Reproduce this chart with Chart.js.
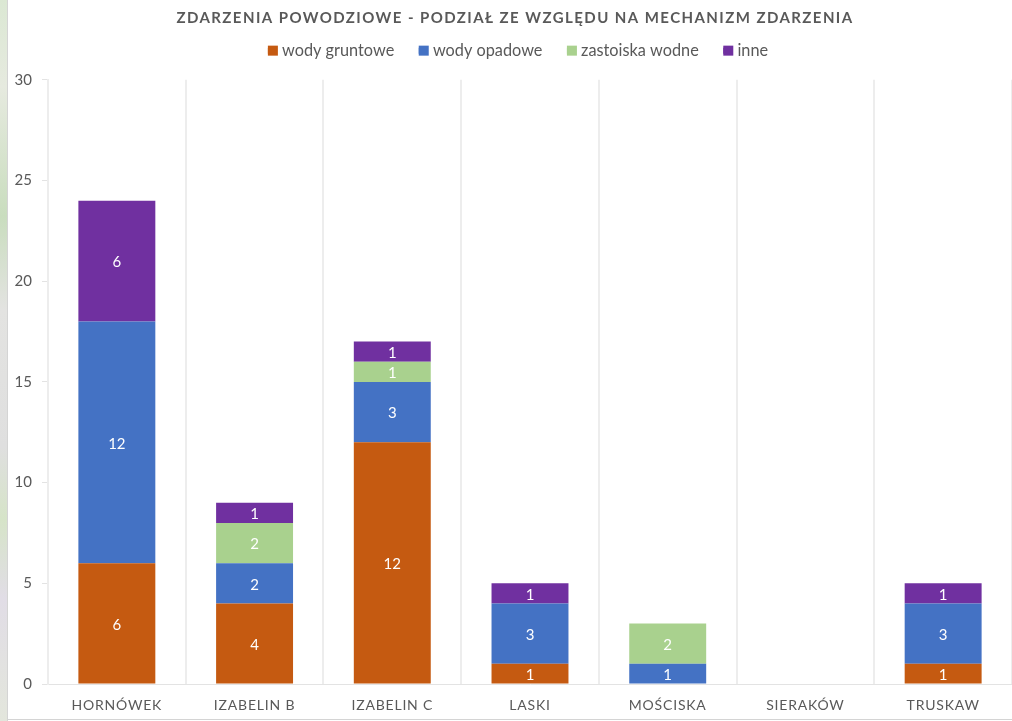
<!DOCTYPE html>
<html><head><meta charset="utf-8">
<script src="https://cdn.jsdelivr.net/npm/chart.js@4"></script>
<style>
html,body{margin:0;padding:0;background:#fff;overflow:hidden}
#wrap{position:relative;width:1012px;height:721px}
#strip{position:absolute;left:0;top:0;width:7px;height:721px;border-right:1px solid #d4d4d4;
background:linear-gradient(180deg,#dbe8d3 0,#e6eadf 12%,#c9ddbe 30%,#e3e3e1 43%,#dfdfdf 62%,#d6e4c8 72%,#e1dde6 83%,#e3e6dc 100%)}
#bottom{position:absolute;left:7px;right:0;top:719px;height:1px;background:#d4d4d4}
canvas{position:absolute;left:0;top:0}
</style></head><body>
<div id="wrap"><div id="strip"></div><div id="bottom"></div><canvas id="c" width="1012" height="721"></canvas></div>
<script>
const categories=["HORNÓWEK","IZABELIN B","IZABELIN C","LASKI","MOŚCISKA","SIERAKÓW","TRUSKAW"];
const wodyGruntowe=[6,4,12,1,0,0,1];
const wodyOpadowe=[12,2,3,3,1,0,3];
const zastoiskaWodne=[0,2,1,0,2,0,0];
const inne=[6,1,1,1,0,0,1];
const yTicks=[0,5,10,15,20,25,30];
const titleText="ZDARZENIA POWODZIOWE - PODZIAŁ ZE WZGLĘDU NA MECHANIZM ZDARZENIA";
const FONT="Lato, Carlito, sans-serif";
const TXT="#595959";

const spacing={
  id:'spacing',
  afterLayout(chart){
    if(chart.$wrapped)return;chart.$wrapped=true;
    const ctx=chart.ctx;
    const t=chart.titleBlock,od=t.draw.bind(t);
    t.draw=function(){ctx.save();ctx.translate(9,7);ctx.letterSpacing='1.43px';od();ctx.restore();};
    const x=chart.scales.x,ol=x.drawLabels.bind(x);
    x.drawLabels=function(a){ctx.save();ctx.letterSpacing='0.8px';ol(a);ctx.restore();};
    const l=chart.legend,oleg=l.draw.bind(l);
    l.draw=function(){
      ctx.save();ctx.translate(12,-11);oleg();
      l.legendItems.forEach((it,i)=>{
        const h=l.legendHitBoxes[i];
        ctx.fillStyle=it.fillStyle;
        ctx.fillRect(h.left,h.top+h.height/2-5,10,10);
      });
      ctx.restore();
    };
  }
};
const barLabels={
  id:'barLabels',
  afterDatasetsDraw(chart){
    const ctx=chart.ctx;ctx.save();
    ctx.font="15px "+FONT;ctx.fillStyle="#fff";ctx.textAlign="center";ctx.textBaseline="middle";
    chart.data.datasets.forEach((ds,i)=>{
      chart.getDatasetMeta(i).data.forEach((el,j)=>{
        const v=ds.data[j];if(!v)return;
        const p=el.getProps(['x','y','base'],true);
        ctx.fillText(String(v),p.x,(p.y+p.base)/2+1.5);
      });
    });
    ctx.restore();
  }
};
const mk=(label,data,color)=>({label,data,backgroundColor:color,borderWidth:0,barPercentage:1,categoryPercentage:0.5587});
new Chart(document.getElementById('c'),{
  type:'bar',
  data:{labels:categories,datasets:[
    mk("wody gruntowe",wodyGruntowe,"#C55A11"),
    mk("wody opadowe",wodyOpadowe,"#4472C4"),
    mk("zastoiska wodne",zastoiskaWodne,"#A9D18E"),
    mk("inne",inne,"#7030A0")
  ]},
  plugins:[spacing,barLabels],
  options:{
    responsive:false,animation:false,
    layout:{padding:0},
    plugins:{
      tooltip:{enabled:false},
      title:{display:true,text:titleText,color:TXT,font:{family:FONT,size:15,weight:'bold'},padding:{top:2,bottom:9}},
      legend:{position:'top',labels:{color:TXT,font:{family:FONT,size:16.3},boxWidth:6,boxHeight:6,padding:24.5}}
    },
    scales:{
      x:{stacked:true,
        afterFit(s){s.height=37;},
        border:{color:"#E3E3E3",width:1},
        grid:{color:"#EDEDED",lineWidth:2,drawTicks:false},
        ticks:{color:TXT,font:{family:FONT,size:14},padding:13,maxRotation:0,autoSkip:false}},
      y:{stacked:true,min:0,max:30,
        afterFit(s){s.width=48;},
        afterBuildTicks(s){s.ticks=yTicks.map(value=>({value}));},
        border:{color:"#EDEDED",width:2},
        grid:{drawOnChartArea:false,color:"#E3E3E3",tickLength:6},
        ticks:{color:TXT,font:{family:FONT,size:15},padding:10}}
    }
  }
});
</script></body></html>
